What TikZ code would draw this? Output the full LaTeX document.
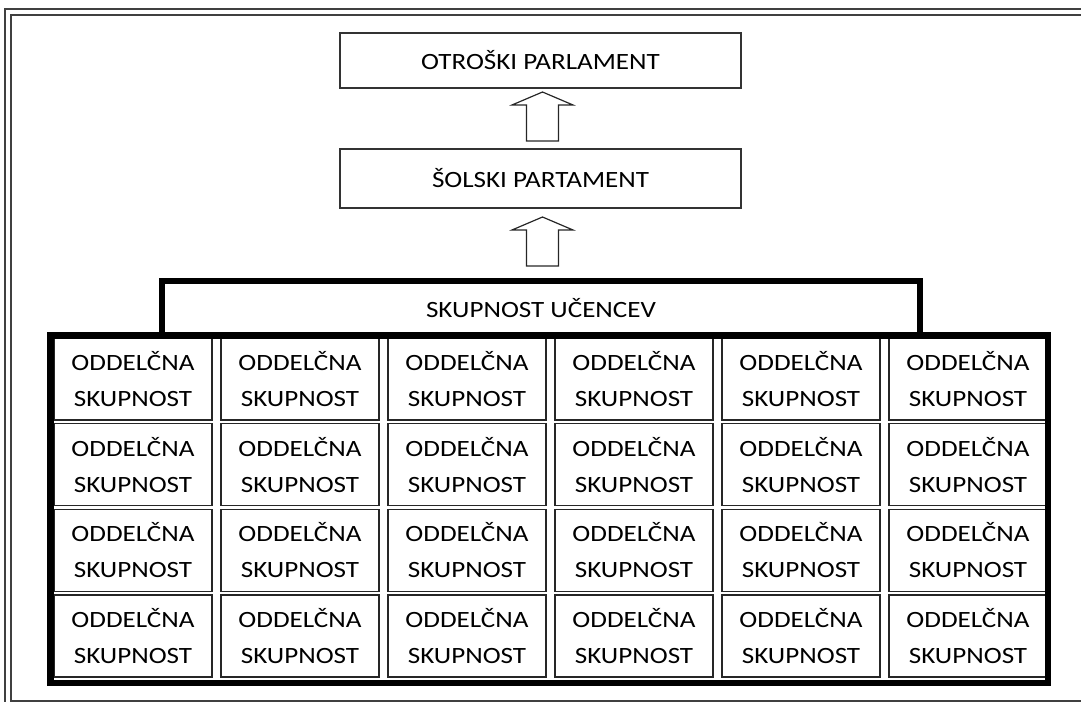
\documentclass[tikz,border=0pt]{standalone}
\usepackage{fontspec}
\setmainfont{Carlito}[FakeStretch=1.16]
\usetikzlibrary{positioning, calc}

\begin{document}
\begin{tikzpicture}[
x=0.75pt, y=-0.75pt,
box/.style={draw=black!80,
line width=0.9pt,
rectangle,
outer sep=0pt,
minimum width=300.75pt,
minimum height=41.25pt,
align=center,
font=\fontsize{17.5}{27}\selectfont},
celica/.style={draw=black!85,
line width=0.9pt,
rectangle,
outer sep=0pt,
inner sep=0pt,
minimum width=118.5pt,
minimum height=61.5pt,
align=center,
font=\fontsize{17.5}{27}\selectfont},
debelo/.style={draw=black, line width=5pt},
okvir/.style={draw=black!75, line width=1.3pt},
puscica/.pic={\draw[line width=0.9pt, black!85] (-16,49) -- (-16,13) -- (-30.5,13) -- (0,0) -- (30.5,13) -- (16,13) -- (16,49) -- cycle;} ]

\useasboundingbox (0,0) rectangle (1081,702);
\clip (0,0) rectangle (1081,702);

% double frame
\draw[okvir] (5,9) rectangle (1095,709);
\draw[okvir] (11,15) rectangle (1089,701);

\node[box] (otroski) at (540.5,60.5) {OTROŠKI PARLAMENT};
\node[box, below=45.75pt of otroski, minimum height=44.25pt] (solski) {ŠOLSKI PARTAMENT};

\pic at ($(otroski.south)+(2,4)$) {puscica};
\pic at ($(solski.south)+(2,9)$) {puscica};

\node[debelo, rectangle, outer sep=0pt, minimum width=568.5pt, minimum height=40.9pt, font=\fontsize{17.5}{27}\selectfont] (skupnost) at (541,308.25) {SKUPNOST UČENCEV};

\foreach \r in {0,...,3}
\foreach \c in {0,...,5}
\node[celica] (celica-\r-\c) at (133+167*\c, 379+85.67*\r) {ODDELČNA\\SKUPNOST};

\draw[debelo] (50.5,335.5) rectangle (1048,683);

\end{tikzpicture}
\end{document}
